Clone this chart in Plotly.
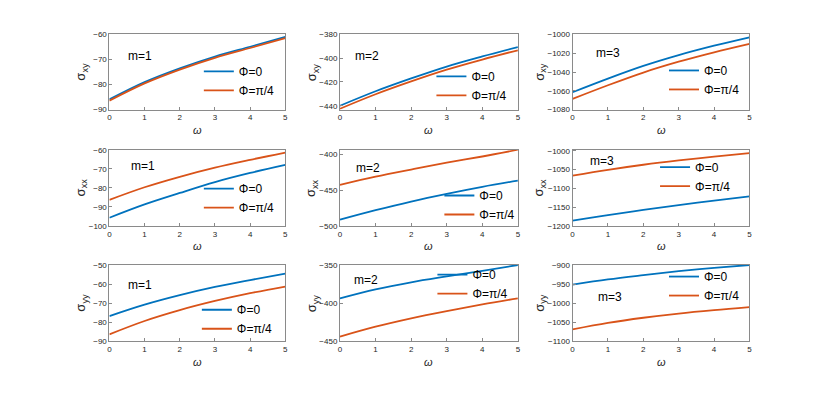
import plotly.graph_objects as go

# omega sample points
omega = [0, 1, 2, 3, 4, 5]

# sigma_xy
sxy_m1_phi0 = [-85.9, -79.0, -73.5, -68.8, -64.9, -61.0]
sxy_m1_phi4 = [-86.4, -79.5, -74.0, -69.3, -65.4, -61.5]
sxy_m2_phi0 = [-440.0, -427.8, -417.0, -407.0, -398.5, -390.6]
sxy_m2_phi4 = [-442.5, -430.3, -419.5, -409.6, -401.1, -393.3]
sxy_m3_phi0 = [-1061.5, -1047.0, -1033.5, -1022.0, -1012.0, -1003.0]
sxy_m3_phi4 = [-1068.5, -1054.0, -1040.5, -1029.0, -1019.0, -1010.0]

# sigma_xx
sxx_m1_phi0 = [-95.7, -88.7, -82.7, -77.0, -72.2, -68.0]
sxx_m1_phi4 = [-86.3, -79.7, -74.2, -69.4, -65.3, -61.5]
sxx_m2_phi0 = [-491.3, -478.0, -465.8, -455.0, -445.2, -436.5]
sxx_m2_phi4 = [-442.5, -431.0, -421.0, -411.4, -402.7, -393.2]
sxx_m3_phi0 = [-1186.0, -1171.0, -1157.5, -1144.5, -1132.5, -1121.0]
sxx_m3_phi4 = [-1066.0, -1050.5, -1037.0, -1025.5, -1015.5, -1006.0]

# sigma_yy
syy_m1_phi0 = [-76.8, -70.8, -65.8, -61.5, -57.9, -54.5]
syy_m1_phi4 = [-86.4, -79.4, -73.7, -68.9, -64.8, -61.3]
syy_m2_phi0 = [-393.8, -382.0, -372.7, -365.0, -357.7, -350.0]
syy_m2_phi4 = [-444.0, -431.0, -420.0, -410.5, -401.8, -393.8]
syy_m3_phi0 = [-951.5, -937.8, -926.6, -916.3, -907.7, -900.0]
syy_m3_phi4 = [-1069.0, -1052.0, -1038.5, -1027.5, -1018.5, -1010.7]

series = [
    (sxy_m1_phi0, sxy_m1_phi4), (sxy_m2_phi0, sxy_m2_phi4), (sxy_m3_phi0, sxy_m3_phi4),
    (sxx_m1_phi0, sxx_m1_phi4), (sxx_m2_phi0, sxx_m2_phi4), (sxx_m3_phi0, sxx_m3_phi4),
    (syy_m1_phi0, syy_m1_phi4), (syy_m2_phi0, syy_m2_phi4), (syy_m3_phi0, syy_m3_phi4),
]
y_titles = ["xy", "xx", "yy"]
m_labels = ["m=1", "m=2", "m=3"]
legend_names = ["Φ=0", "Φ=π/4"]

y_ranges = [[-90, -60], [-443.3, -380], [-1080, -1000],
            [-100, -60], [-500, -393.2], [-1200, -997],
            [-90, -50], [-450, -350], [-1100, -900]]
y_dticks = [10, 20, 20, 10, 50, 50, 10, 50, 50]

# the page body has an 8px margin, so the figure is drawn 8px smaller
# and all positions below are page pixels shifted by OFF
OFF = 8
W, H = 830 - OFF, 396 - OFF
col_px = [(108, 285), (340, 519), (574, 752)]
row_px = [(31, 108), (149, 227), (267, 345)]
# legend (left, top) and m-label (left, centre y) positions in page pixels
legend_px = [(198, 54), (432, 59), (666, 53),
             (198, 174), (440, 181), (657, 152),
             (196, 298), (433, 262), (666, 264)]
mlabel_px = [(125, 53), (353, 53), (596, 50),
             (128, 166), (354, 168), (590, 161),
             (125, 287), (352, 282), (598, 300)]


def px(x):
    return (x - OFF) / W


def py(y):
    return 1 - (y - OFF) / H


BLUE = "#0072BD"
ORANGE = "#D95319"
AX = "#262626"
FONT = "Liberation Sans, Arial, sans-serif"

fig = go.Figure()
layout = dict(width=W, height=H, margin=dict(l=0, r=0, t=0, b=0),
              paper_bgcolor="white", plot_bgcolor="white",
              font=dict(family=FONT, color=AX), showlegend=True)
annotations = []

for i, (s0, s4) in enumerate(series):
    r, c = divmod(i, 3)
    n = i + 1
    xa = "x" if n == 1 else f"x{n}"
    ya = "y" if n == 1 else f"y{n}"
    leg = "legend" if n == 1 else f"legend{n}"
    for ys, name, col in ((s0, legend_names[0], BLUE), (s4, legend_names[1], ORANGE)):
        fig.add_trace(go.Scatter(x=omega, y=ys, name=name, mode="lines",
                                 line=dict(color=col, width=1.8, shape="spline"),
                                 xaxis=xa, yaxis=ya, legend=leg))
    x0, x1 = col_px[c]
    y0, y1 = row_px[r]
    axis_common = dict(showline=True, mirror=True, linecolor="#8a8a8a", linewidth=1,
                       ticks="inside", ticklen=3, tickcolor="#8a8a8a",
                       showgrid=False, zeroline=False,
                       tickfont=dict(size=8, color=AX, family=FONT))
    layout[f"xaxis{n}"] = dict(domain=[px(x0), px(x1)], anchor=ya, range=[0, 5],
                               dtick=1, **axis_common)
    layout[f"yaxis{n}"] = dict(domain=[py(y1), py(y0)], anchor=xa,
                               range=y_ranges[i], dtick=y_dticks[i], **axis_common)
    lx, ly = legend_px[i]
    layout[leg] = dict(x=px(lx), y=py(ly), xanchor="left", yanchor="top",
                       xref="paper", yref="paper", bgcolor="rgba(0,0,0,0)",
                       font=dict(size=12, color="black", family=FONT))
    mx, my = mlabel_px[i]
    annotations.append(dict(text=m_labels[c], x=px(mx), y=py(my), xref="paper",
                            yref="paper", xanchor="left", yanchor="middle",
                            showarrow=False, font=dict(size=12, color="black")))
    # omega x-title
    annotations.append(dict(text="<i>ω</i>", x=px((x0 + x1) / 2),
                            y=py(y1 + 21), xref="paper", yref="paper",
                            xanchor="center", yanchor="middle", showarrow=False,
                            font=dict(size=11, color=AX)))
    # sigma y-title
    tx = x0 - (33 if c == 2 else 28)
    annotations.append(dict(text="σ<sub>" + y_titles[r] + "</sub>", x=px(tx),
                            y=py((y0 + y1) / 2), xref="paper", yref="paper",
                            xanchor="center", yanchor="middle", textangle=-90,
                            showarrow=False, font=dict(size=13, color=AX)))

layout["annotations"] = annotations
fig.update_layout(**layout)
fig.write_html("out.html")
